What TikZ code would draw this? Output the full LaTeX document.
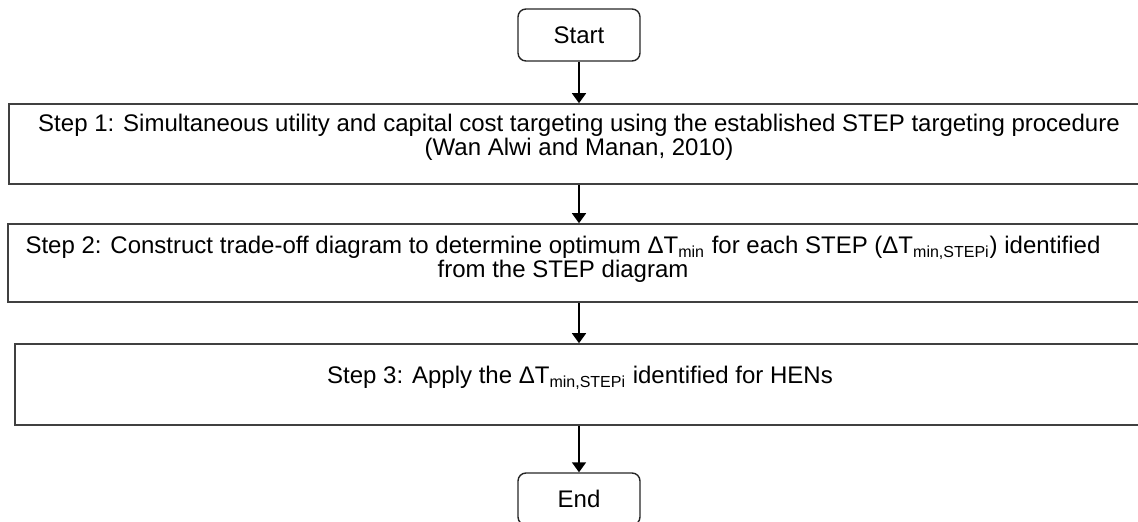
\documentclass[tikz,border=0pt]{standalone}
\usepackage{fontspec}
\setmainfont{Liberation Sans}
\usetikzlibrary{arrows.meta}

\newcommand{\dT}[1]{ΔT\textsubscript{#1}}

\tikzset{
	endbox/.style={shape=rectangle,rounded corners=4pt,draw=black!85,line width=0.7pt,
		minimum width=61pt,minimum height=26pt,inner sep=0pt,font=\fontsize{12}{13}\selectfont},
	stepbox/.style={shape=rectangle,draw=black!75,line width=0.8pt,inner sep=0pt},
	steptext/.style={anchor=base,align=center,inner sep=0pt,font=\fontsize{12}{12}\selectfont},
	flow/.style={-{Triangle[width=7pt,length=5pt]},line width=0.8pt}
}

\begin{document}
\begin{tikzpicture}[x=0.5pt,y=-0.5pt]
	
	\useasboundingbox (0,0) rectangle (1138,522);
	\clip (0,0) rectangle (1138,522);
	
	\node[endbox] (start) at (579, 35) {Start};
	
	\node[stepbox,minimum width=570pt,minimum height=40pt] (s1) at (579, 144) {};
	\node[steptext] (t1) at (579, 156) {Step 1: Simultaneous utility and capital cost targeting using the established STEP targeting procedure\\(Wan Alwi and Manan, 2010)};
	
	\node[stepbox,minimum width=571pt,minimum height=39pt] (s2) at (579, 263) {};
	\node[steptext] (t2) at (563, 278) {Step 2: Construct trade-off diagram to determine optimum \dT{min} for each STEP (\dT{min,STEPi}) identified\\from the STEP diagram};
	
	\node[stepbox,minimum width=564pt,minimum height=40.5pt] (s3) at (579, 384.5) {};
	\node[steptext] (t3) at (580, 384) {Step 3: Apply the \dT{min,STEPi} identified for HENs};
	
	\node[endbox] (end) at (579, 499) {End};
	
	\draw[flow] (start) -- (s1);
	\draw[flow] (s1) -- (s2);
	\draw[flow] (s2) -- (s3);
	\draw[flow] (s3) -- (end);
	
\end{tikzpicture}
\end{document}
